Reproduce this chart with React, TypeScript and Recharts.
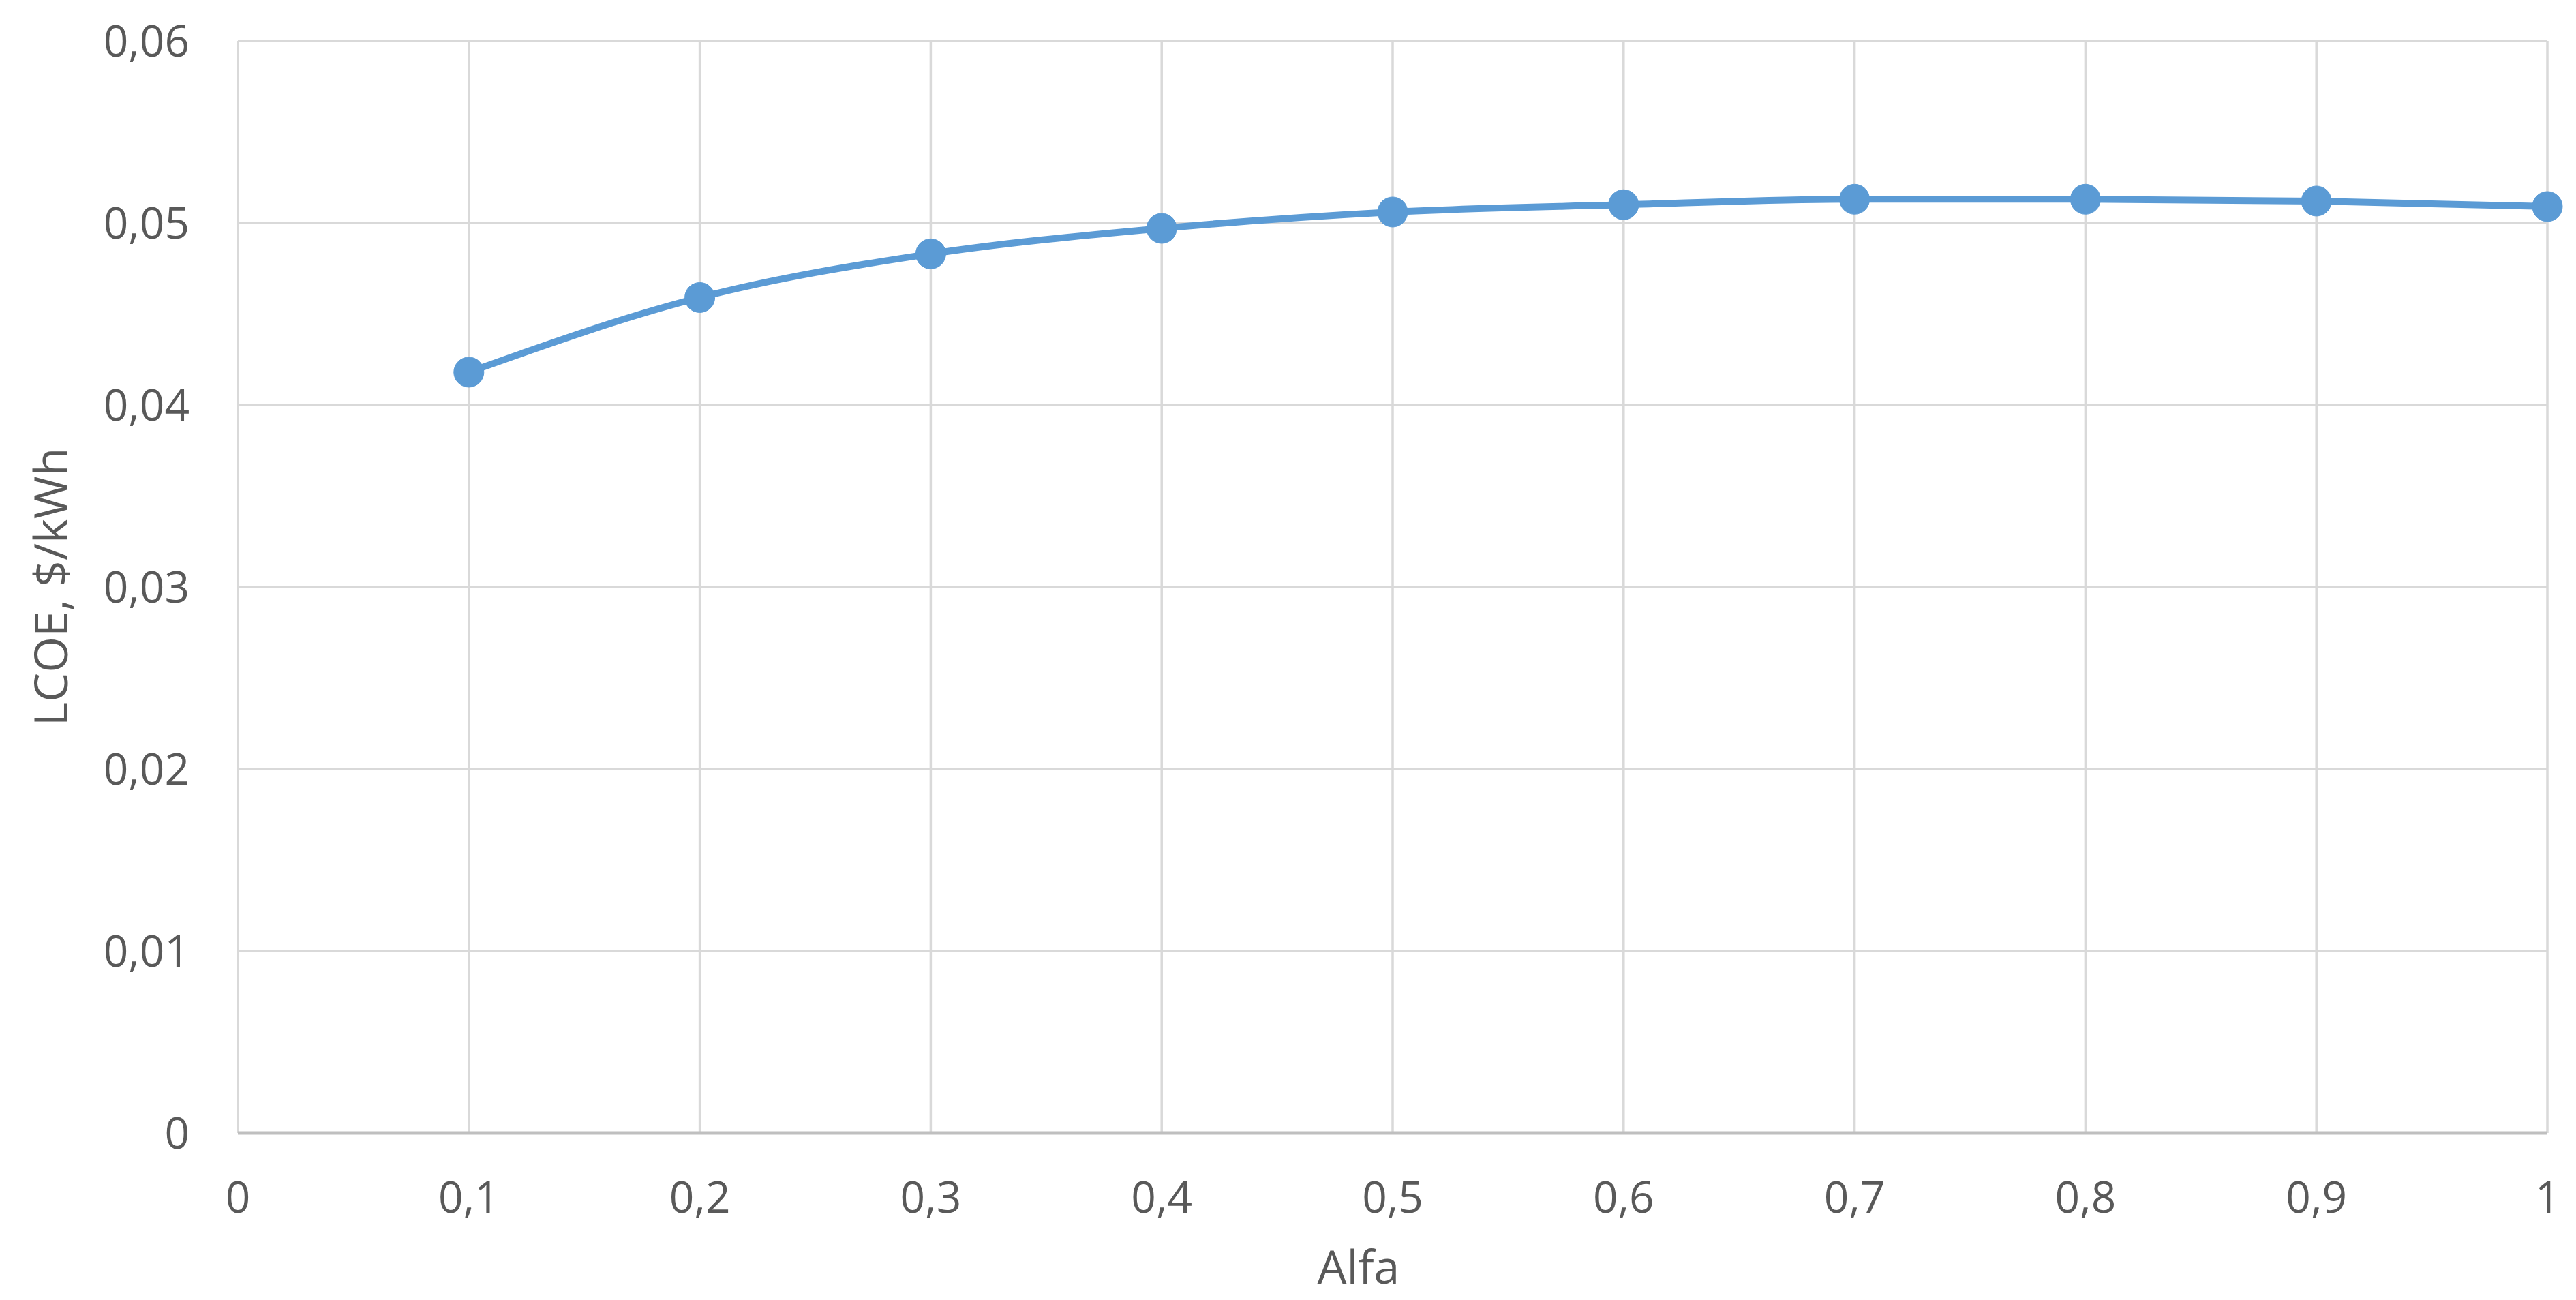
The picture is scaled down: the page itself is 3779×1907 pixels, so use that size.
import { LineChart, Line, XAxis, YAxis, CartesianGrid, Label } from "recharts";

// Alfa values on the x axis
const alfa = [0.1, 0.2, 0.3, 0.4, 0.5, 0.6, 0.7, 0.8, 0.9, 1.0];
// LCOE, $/kWh
const lcoe = [0.0418, 0.0459, 0.0483, 0.0497, 0.0506, 0.051, 0.0513, 0.0513, 0.0512, 0.0509];

const xTicks = [0, 0.1, 0.2, 0.3, 0.4, 0.5, 0.6, 0.7, 0.8, 0.9, 1];
const yTicks = [0, 0.01, 0.02, 0.03, 0.04, 0.05, 0.06];

const data = alfa.map((a, i) => ({ alfa: a, lcoe: lcoe[i] }));

const TEXT = "#595959";
const FONT = "'Open Sans', 'Noto Sans', sans-serif";

const comma = (v: number) => String(Number(v.toFixed(2))).replace(".", ",");

function YTitle(props: any) {
  const vb = props.viewBox || { x: 0, y: 0, width: 0, height: 0 };
  const cx = vb.x + 72;
  const cy = vb.y + vb.height / 2;
  return (
    <text
      x={cx}
      y={cy}
      transform={`rotate(-90, ${cx}, ${cy})`}
      textAnchor="middle"
      dominantBaseline="central"
      fill={TEXT}
      fontSize={68}
      fontFamily={FONT}
    >
      LCOE, $/kWh
    </text>
  );
}

export default function App() {
  return (
    <div style={{ position: "absolute", left: 0, top: 0, width: 3779, height: 1907, background: "#fff" }}>
      <LineChart
        width={3779}
        height={1907}
        data={data}
        margin={{ top: 60, right: 42, left: 0, bottom: 0 }}
        style={{ fontFamily: FONT }}
      >
        <CartesianGrid stroke="#d9d9d9" strokeWidth={3.5} />
        <XAxis
          dataKey="alfa"
          type="number"
          domain={[0, 1]}
          ticks={xTicks}
          tickFormatter={comma}
          height={245}
          axisLine={{ stroke: "#bfbfbf", strokeWidth: 5 }}
          tickLine={false}
          tickSize={0}
          tickMargin={72}
          tick={{ fill: TEXT, fontSize: 64 }}
        >
          <Label value="Alfa" position="insideBottom" offset={24} dx={-50} fill={TEXT} fontSize={68} />
        </XAxis>
        <YAxis
          type="number"
          domain={[0, 0.06]}
          ticks={yTicks}
          tickFormatter={comma}
          width={349}
          axisLine={false}
          tickLine={false}
          tickSize={0}
          tickMargin={71}
          tick={{ fill: TEXT, fontSize: 64 }}
        >
          <Label content={<YTitle />} />
        </YAxis>
        <Line
          type="monotone"
          dataKey="lcoe"
          stroke="#5b9bd5"
          strokeWidth={10}
          dot={{ r: 22, fill: "#5b9bd5", stroke: "#5b9bd5", strokeWidth: 1 }}
          activeDot={false}
          isAnimationActive={false}
        />
      </LineChart>
    </div>
  );
}
